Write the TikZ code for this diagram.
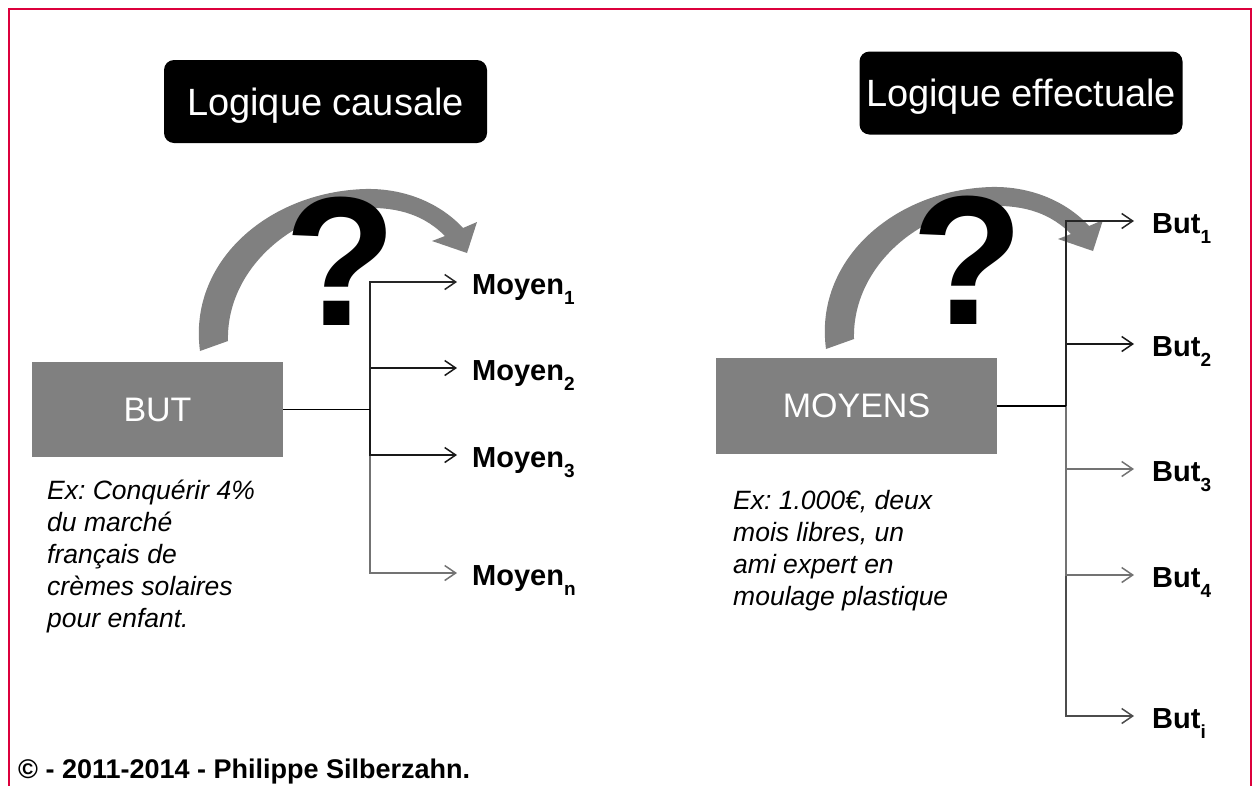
\documentclass[tikz,border=0pt]{standalone}
\usepackage{fontspec}
\setmainfont{Liberation Sans}
\usetikzlibrary{arrows.meta}
\definecolor{framered}{RGB}{220,0,60}
\definecolor{boxgray}{RGB}{128,128,128}
\frenchspacing
\newcommand{\sublabel}[2]{\textbf{#1}\raisebox{-9.5pt}{\fontsize{19}{19}\selectfont\bfseries #2}}
\tikzset{
  titlebox/.style={fill=black, rounded corners=10pt, text=white, font=\fontsize{38}{40}\selectfont,
    minimum width=323pt, minimum height=83pt, inner sep=0, text height=27pt, text depth=0pt},
  graybox/.style={fill=boxgray, text=white, font=\fontsize{34}{36}\selectfont, inner sep=0},
  target/.style={anchor=west, inner sep=0, text height=25pt, text depth=0pt, font=\fontsize{29}{31}\selectfont},
  trunk/.style={line width=1.5pt},
  conn/.style={line width=1.5pt, -{Straight Barb[length=11pt,width=15pt]}},
  example/.style={anchor=north west, inner sep=0, align=left, font=\itshape\fontsize{26.5}{32}\selectfont},
  qmark/.style={inner sep=0, font=\bfseries\fontsize{184}{184}\selectfont},
  curvedarrow/.pic={
    \fill[boxgray] (200,351) .. controls (188,262) and (268,192) .. (365,189)
      .. controls (407,188) and (442,205) .. (463,228)
      -- (477,222) -- (467,253) -- (432,241) -- (445,236)
      .. controls (425,216) and (400,207) .. (365,208)
      .. controls (292,212) and (226,270) .. (228,341) -- cycle;
  }
}
\begin{document}
\begin{tikzpicture}[x=1pt,y=-1pt]
\useasboundingbox (0,0) rectangle (1252,785);
% frame
\draw[framered, line width=2.2pt] (9,786) -- (9,9) -- (1251,9) -- (1251,786);

% curved arrows
\pic at (0,0) {curvedarrow};
\pic at (626,-2) {curvedarrow};

% question marks
\node[qmark] (q1) at (341,261) {?};
\node[qmark] (q2) at (968,260) {?};

% titles
\node[titlebox] (t1) at (325.5,101.5) {Logique causale};
\node[titlebox] (t2) at (1021,93) {Logique effectuale};

% boxes
\node[graybox, minimum width=251pt, minimum height=95pt] (but) at (157.5,409.5) {BUT};
\node[graybox, minimum width=281pt, minimum height=96pt] (moy) at (856.5,406) {MOYENS};

% left targets
\coordinate (jL) at (370,409.5);
\node[target] (m1) at (472,282) {\sublabel{Moyen}{1}};
\node[target] (m2) at (472,368) {\sublabel{Moyen}{2}};
\node[target] (m3) at (472,455) {\sublabel{Moyen}{3}};
\node[target] (mn) at (472,573) {\sublabel{Moyen}{n}};

\draw[conn, black!55, shorten >=15pt] (jL) |- (mn.west);
\draw[conn, black!90, shorten >=15pt] (jL) |- (m3.west);
\draw[conn, black!90, shorten >=15pt] (jL) |- (m2.west);
\draw[conn, black!85, shorten >=15pt] (jL) |- (m1.west);
\draw[trunk] (but.east) -- (jL);

% right targets
\coordinate (jR) at (1066,406);
\node[target] (b1) at (1152,221) {\sublabel{But}{1}};
\node[target] (b2) at (1152,344) {\sublabel{But}{2}};
\node[target] (b3) at (1152,469) {\sublabel{But}{3}};
\node[target] (b4) at (1152,575) {\sublabel{But}{4}};
\node[target] (bi) at (1152,716) {\sublabel{But}{i}};

\draw[conn, black!70, shorten >=18pt] (jR) |- (bi.west);
\draw[conn, black!55, shorten >=18pt] (jR) |- (b4.west);
\draw[conn, black!55, shorten >=18pt] (jR) |- (b3.west);
\draw[conn, black!90, shorten >=18pt] (jR) |- (b2.west);
\draw[conn, black!85, shorten >=18pt] (jR) |- (b1.west);
\draw[trunk] (moy.east) -- (jR);

% examples
\node[example] (ex1) at (47,480) {Ex: Conquérir 4\%\\du marché\\français de\\crèmes solaires\\pour enfant.};
\node[example] (ex2) at (733,490) {Ex: 1.000€, deux\\mois libres, un\\ami expert en\\moulage plastique};

% footer
\node[anchor=base west, inner sep=0, font=\bfseries\fontsize{27}{29}\selectfont] (foot) at (18,778) {© - 2011-2014 - Philippe Silberzahn.};
\end{tikzpicture}
\end{document}
